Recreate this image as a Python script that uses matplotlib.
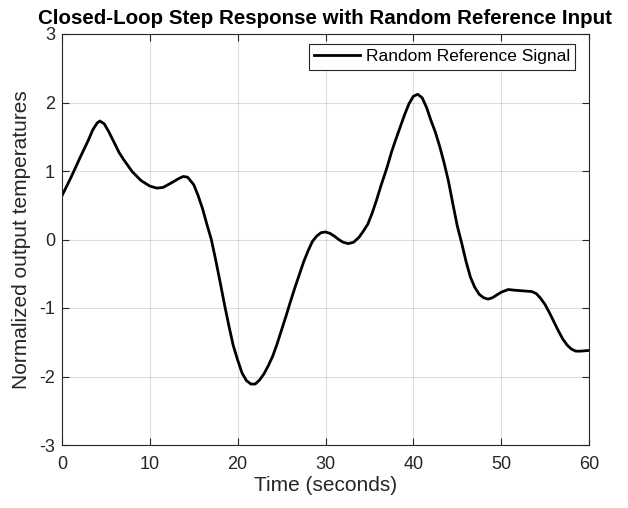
import matplotlib
matplotlib.use("Agg")
import matplotlib.pyplot as plt

# Reference signal samples (time in seconds, normalized temperature)
time_s = [0, 1, 2, 3, 3.5, 4, 4.3, 4.8, 5.3, 6, 6.5, 7, 8, 9, 10, 10.8, 11.5,
          12.5, 13.3, 13.8, 14.3, 15, 15.5, 16, 16.5, 17, 17.5, 18, 18.5, 19,
          19.5, 20, 20.5, 21, 21.5, 22, 22.5, 23, 23.5, 24, 24.5, 25, 25.5, 26,
          26.5, 27, 27.5, 28, 28.5, 29, 29.5, 30, 30.5, 31, 31.5, 32, 32.6,
          33.2, 33.8, 34.3, 34.8, 35.3, 35.8, 36.3, 37, 37.5, 38, 38.5, 39,
          39.5, 40, 40.5, 41, 41.5, 42, 42.5, 43, 43.5, 44, 44.5, 45, 45.5, 46,
          46.5, 47, 47.5, 48, 48.5, 49, 49.5, 50, 50.8, 51.5, 52.5, 53.5, 54,
          54.5, 55, 55.5, 56, 56.5, 57, 57.5, 58, 58.5, 59, 60]
signal = [0.64, 0.90, 1.18, 1.45, 1.60, 1.70, 1.73, 1.69, 1.58, 1.40, 1.27,
          1.17, 0.99, 0.86, 0.78, 0.75, 0.76, 0.83, 0.89, 0.92, 0.91, 0.80,
          0.64, 0.45, 0.22, 0.00, -0.30, -0.62, -0.95, -1.26, -1.55, -1.76,
          -1.95, -2.06, -2.11, -2.11, -2.05, -1.96, -1.84, -1.70, -1.52, -1.32,
          -1.12, -0.91, -0.71, -0.52, -0.33, -0.17, -0.03, 0.05, 0.10, 0.11,
          0.09, 0.05, 0.00, -0.04, -0.06, -0.04, 0.03, 0.12, 0.22, 0.38, 0.57,
          0.78, 1.05, 1.27, 1.46, 1.64, 1.82, 1.98, 2.09, 2.12, 2.07, 1.93,
          1.74, 1.57, 1.36, 1.12, 0.85, 0.52, 0.20, -0.05, -0.32, -0.55, -0.70,
          -0.80, -0.85, -0.87, -0.85, -0.81, -0.77, -0.73, -0.74, -0.75, -0.76,
          -0.79, -0.86, -0.95, -1.07, -1.20, -1.33, -1.45, -1.54, -1.60, -1.63,
          -1.63, -1.62]

x_ticks = [0, 10, 20, 30, 40, 50, 60]
y_ticks = [-3, -2, -1, 0, 1, 2, 3]

plt.rcParams["font.family"] = ["Liberation Sans", "DejaVu Sans"]
plt.rcParams["axes.unicode_minus"] = False
dark = (0.15, 0.15, 0.15)

W, H = 628, 508
fig = plt.figure(figsize=(W / 100, H / 100), dpi=100)
ax_l, ax_r, ax_t, ax_b = 62, 589, 34, 445
ax = fig.add_axes([ax_l / W, (H - ax_b) / H, (ax_r - ax_l) / W, (ax_b - ax_t) / H])

ax.plot(time_s, signal, color="black", linewidth=2, label="Random Reference Signal",
        solid_joinstyle="round")

ax.set_xlim(0, 60)
ax.set_ylim(-3, 3)
ax.set_xticks(x_ticks)
ax.set_yticks(y_ticks)
ax.grid(True, color=dark, alpha=0.15, linewidth=0.8)
ax.tick_params(axis="both", direction="in", top=True, right=True, length=5,
               width=0.8, colors=dark, labelsize=13, labelcolor=dark)
ax.tick_params(axis="x", pad=8)
ax.tick_params(axis="y", pad=5)
for sp in ax.spines.values():
    sp.set_color(dark)
    sp.set_linewidth(0.8)

ax.set_xlabel("Time (seconds)", fontsize=15, color=dark, labelpad=2)
ax.set_ylabel("Normalized output temperatures", fontsize=15, color=dark, labelpad=6)
ax.set_title("Closed-Loop Step Response with Random Reference Input",
             fontsize=14.8, fontweight="bold", color="black", pad=7.5)

axw, axh = ax_r - ax_l, ax_b - ax_t
leg = ax.legend(loc="upper right", bbox_to_anchor=(1 - 14 / axw, 1 - 10 / axh),
                borderaxespad=0, fontsize=12.5, frameon=True, fancybox=False,
                framealpha=1, edgecolor=dark, handlelength=2.65, borderpad=0.3,
                handletextpad=0.3)
leg.get_frame().set_linewidth(0.8)

fig.savefig("out.png", dpi=100)
